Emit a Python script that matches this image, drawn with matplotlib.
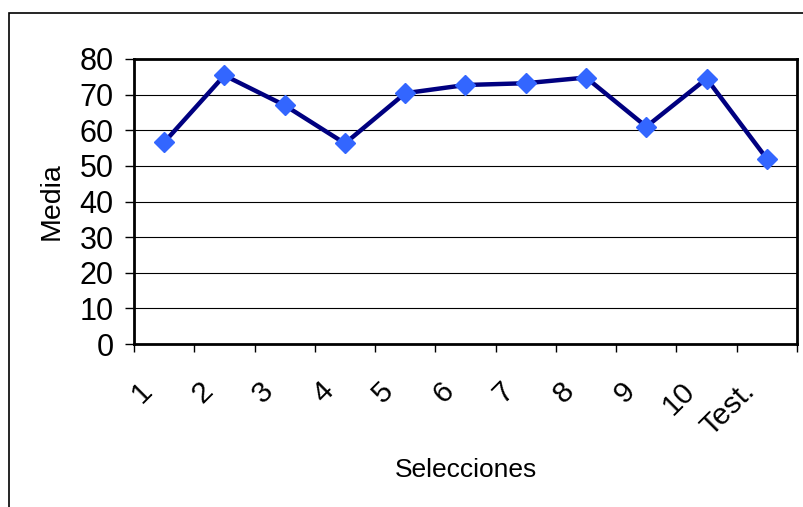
import matplotlib
matplotlib.use('Agg')
import matplotlib.pyplot as plt
import matplotlib.transforms as mtransforms
from matplotlib.patches import Rectangle
import numpy as np

selecciones = ["1", "2", "3", "4", "5", "6", "7", "8", "9", "10", "Test."]
media = [56.6, 75.4, 67.0, 56.3, 70.4, 72.7, 73.2, 74.8, 61.0, 74.5, 52.0]
yticks = [0, 10, 20, 30, 40, 50, 60, 70, 80]

plt.rcParams['font.family'] = ['Liberation Sans', 'DejaVu Sans']

fig = plt.figure(figsize=(8.04, 5.07), dpi=100)
W, H = 804, 507
ax = fig.add_axes([134 / W, 1 - 344 / H, (797 - 134) / W, (344 - 59) / H])

# outer chart frame, open at right and bottom
fig.patches.append(Rectangle((9 / W, -0.1), 1.2, 1.1 - 13 / H, transform=fig.transFigure,
                             fill=False, edgecolor='black', linewidth=1.2))

x = np.arange(len(selecciones))
ax.plot(x, media, color='#000080', linewidth=3.2, zorder=3,
        marker='D', markersize=10, markerfacecolor='#3366FF',
        markeredgecolor='#3366FF', clip_on=False)

ax.set_xlim(-0.5, len(selecciones) - 0.5)
ax.set_ylim(0, 80)
ax.set_yticks(yticks)
for v in yticks[1:-1]:
    ax.axhline(v, color='black', linewidth=0.8, zorder=1)

# ticks at category boundaries, labels centred on categories
ax.set_xticks(np.arange(len(selecciones) + 1) - 0.5)
ax.set_xticklabels([])
ax.set_xticks(x, minor=True)
ax.set_xticklabels(selecciones, minor=True, rotation=45, ha='right', va='center',
                   rotation_mode='anchor', fontsize=21.5)
ax.tick_params(axis='x', which='minor', length=0, pad=31)
ax.tick_params(axis='x', which='major', direction='out', length=6, width=1)
ax.tick_params(axis='y', direction='out', length=6.5, width=1, pad=8, labelsize=22)

# nudge the slanted labels a bit to the left
shift = mtransforms.ScaledTranslation(-0.16, 0, fig.dpi_scale_trans)
for lab in ax.get_xticklabels(minor=True):
    lab.set_transform(lab.get_transform() + shift)

for s in ax.spines.values():
    s.set_linewidth(2)

ax.set_ylabel("Media", fontsize=20.5)
ax.yaxis.set_label_coords(-0.105, 0.5)
ax.set_xlabel("Selecciones", fontsize=19)
ax.xaxis.set_label_coords(0.5, -0.40)

fig.savefig("out.png", dpi=100, facecolor='white')
